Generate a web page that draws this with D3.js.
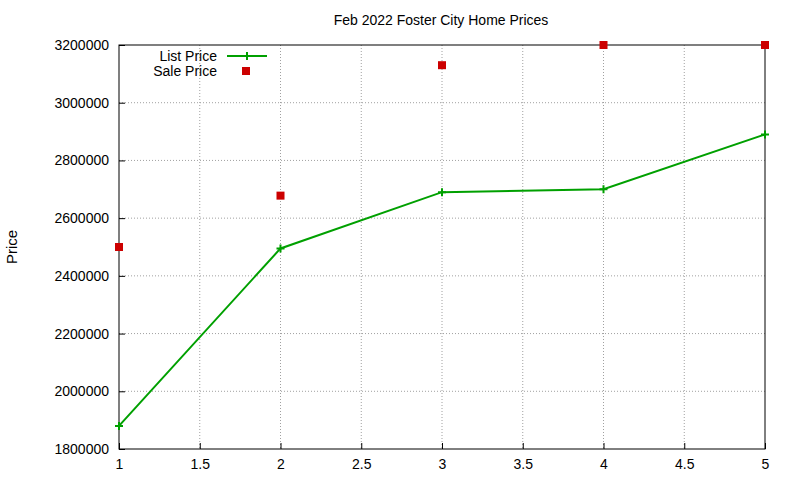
<!DOCTYPE html>
<html><head><meta charset="utf-8">
<script src="https://cdn.jsdelivr.net/npm/d3@7"></script>
<style>body{margin:0;background:#fff}text{font-family:"Liberation Sans",Arial,sans-serif;fill:#000}</style>
</head><body>
<svg id="chart" width="800" height="480"></svg>
<script>
const xs = [1, 2, 3, 4, 5];
const listPrice = [1880000, 2495000, 2690000, 2700000, 2890000];
const salePrice = [2500000, 2678000, 3130000, 3200000, 3200000];
const xTicks = [1, 1.5, 2, 2.5, 3, 3.5, 4, 4.5, 5];
const yTicks = [1800000, 2000000, 2200000, 2400000, 2600000, 2800000, 3000000, 3200000];

const pLeft = 119, pRight = 765, pTop = 45, pBottom = 449;
const svg = d3.select('#chart');
const x = d3.scaleLinear().domain([1, 5]).range([pLeft, pRight]);
const y = d3.scaleLinear().domain([1800000, 3200000]).range([pBottom, pTop]);

const g = svg.append('g');
// grid
g.selectAll('.vg').data(xTicks.slice(1, -1)).join('line')
  .attr('x1', d => x(d)).attr('x2', d => x(d)).attr('y1', pTop).attr('y2', pBottom)
  .attr('stroke', '#a0a0a0').attr('stroke-dasharray', '1,2');
g.selectAll('.hg').data(yTicks.slice(1, -1)).join('line')
  .attr('x1', pLeft).attr('x2', pRight).attr('y1', d => y(d)).attr('y2', d => y(d))
  .attr('stroke', '#a0a0a0').attr('stroke-dasharray', '1,2');

// axes with inward ticks
const xa = svg.append('g').attr('transform', `translate(0,${pBottom})`)
  .call(d3.axisBottom(x).tickValues(xTicks).tickSizeInner(-6).tickSizeOuter(0).tickPadding(10).tickFormat(d3.format('')));
const ya = svg.append('g').attr('transform', `translate(${pLeft},0)`)
  .call(d3.axisLeft(y).tickValues(yTicks).tickSizeInner(-6).tickSizeOuter(0).tickPadding(10).tickFormat(d3.format('d')));
[xa, ya].forEach(a => { a.selectAll('text').attr('font-size', 14).attr('font-family', '"Liberation Sans",Arial,sans-serif'); a.select('.domain').remove(); });
svg.append('rect').attr('x', pLeft).attr('y', pTop).attr('width', pRight - pLeft).attr('height', pBottom - pTop)
  .attr('fill', 'none').attr('stroke', '#000');

// title and label
svg.append('text').attr('x', 441).attr('y', 25).attr('text-anchor', 'middle').attr('font-size', 14).text('Feb 2022 Foster City Home Prices');
svg.append('text').attr('transform', 'translate(17,247) rotate(-90)').attr('text-anchor', 'middle').attr('font-size', 15).text('Price');

const green = '#00a000', red = '#cc0000';
const line = d3.line().x((d, i) => x(xs[i])).y(d => y(d));
svg.append('path').datum(listPrice).attr('d', line).attr('fill', 'none').attr('stroke', green).attr('stroke-width', 2);
const plus = (sel) => sel.append('path').attr('d', 'M-4,0H4M0,-4V4').attr('stroke', green).attr('stroke-width', 2);
listPrice.forEach((v, i) => plus(svg.append('g').attr('transform', `translate(${x(xs[i])},${y(v)})`)));
svg.selectAll('.sq').data(salePrice).join('rect')
  .attr('x', (d, i) => x(xs[i]) - 4).attr('y', d => y(d) - 4).attr('width', 8).attr('height', 8).attr('fill', red);

// legend
svg.append('text').attr('x', 217).attr('y', 61).attr('text-anchor', 'end').attr('font-size', 14).text('List Price');
svg.append('line').attr('x1', 227).attr('x2', 267).attr('y1', 56).attr('y2', 56).attr('stroke', green).attr('stroke-width', 2);
plus(svg.append('g').attr('transform', 'translate(247,56)'));
svg.append('text').attr('x', 217).attr('y', 76).attr('text-anchor', 'end').attr('font-size', 14).text('Sale Price');
svg.append('rect').attr('x', 242).attr('y', 67).attr('width', 8).attr('height', 8).attr('fill', red);
</script>
</body></html>
